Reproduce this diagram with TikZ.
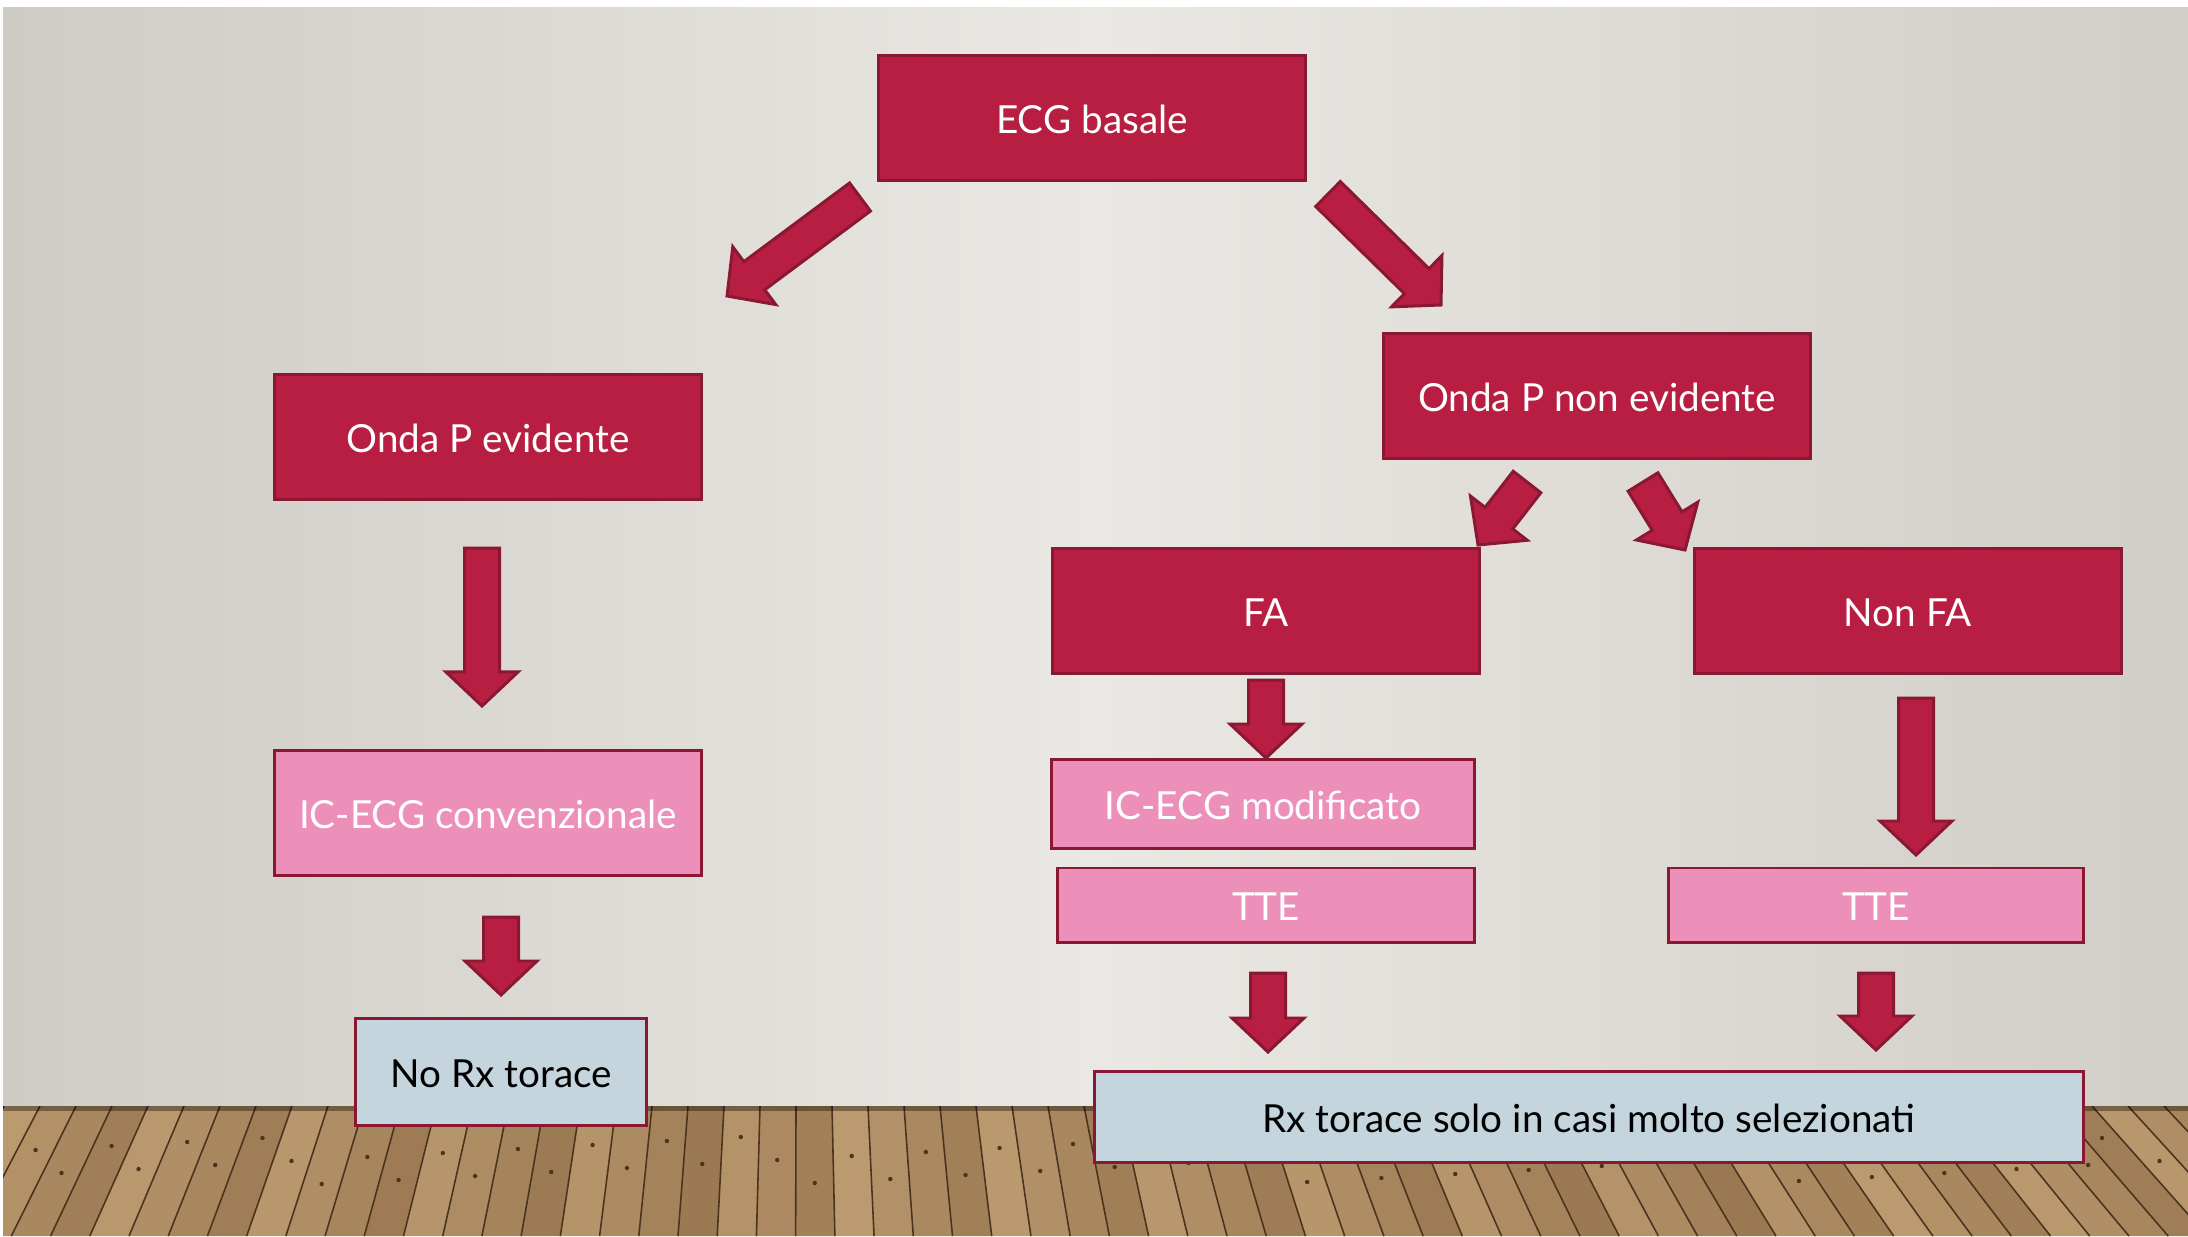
\documentclass[tikz,border=0pt]{standalone}
\usepackage{fontspec}
\setmainfont{Lato}
\usetikzlibrary{calc}
\definecolor{crimson}{HTML}{B71E42}
\definecolor{boxedge}{HTML}{8A1832}
\definecolor{rosepink}{HTML}{EC90BA}
\definecolor{paleblue}{HTML}{C5D5DD}
\definecolor{wallmid}{HTML}{EAE8E4}
\definecolor{wallleft}{HTML}{CFCBC5}
\definecolor{wallright}{HTML}{D1CDC7}
\definecolor{woodlight}{HTML}{C4A277}
\definecolor{wooddark}{HTML}{7E5C38}
\definecolor{woodline}{HTML}{4A3420}

\tikzset{
  box/.style={draw=boxedge, line width=0.85pt, inner sep=0pt,
    font=\fontsize{11}{13}\selectfont, text=white,
    text height=0.9em, text depth=0pt},
  redbox/.style={box, fill=crimson, minimum width=4.27cm, minimum height=1.24cm},
  pinkbox/.style={box, fill=rosepink},
  bluebox/.style={box, fill=paleblue, text=black},
  arrowfill/.style={fill=crimson, draw=boxedge, line width=0.85pt, line join=miter}
}

% block arrow from tail centre #1 to tip #2
\newcommand{\blockarrow}[2]{%
  \coordinate (hb) at ($(#2)!0.34cm!(#1)$);
  \filldraw[arrowfill] ($(#1)!0.175cm!90:(#2)$) -- ($(hb)!0.175cm!-90:(#1)$)
    -- ($(hb)!0.36cm!-90:(#1)$) -- (#2) -- ($(hb)!0.36cm!90:(#1)$)
    -- ($(hb)!0.175cm!90:(#1)$) -- ($(#1)!0.175cm!-90:(#2)$) -- cycle;
}

\begin{document}
\begin{tikzpicture}[x=0.01cm, y=-0.01cm]

    \useasboundingbox (0,0) rectangle (2188,1236);

    % Wall and floor
    \fill[white] (0,0) rectangle (2188,1236);
    \shade[left color=wallleft, right color=wallright, middle color=wallmid] (3,7) rectangle (2188,1106);
    \begin{scope}
        \clip (3,1106) rectangle (2188,1236);
        \fill[wooddark] (3,1106) rectangle (2188,1236);
        \foreach \k in {0,...,70} {
            \pgfmathsetmacro{\xa}{-140+\k*36}
            \pgfmathsetmacro{\xb}{\xa+36}
            \pgfmathsetmacro{\xc}{800+(\xa-800)*1.0893}
            \pgfmathsetmacro{\xd}{800+(\xb-800)*1.0893}
            \pgfmathtruncatemacro{\mix}{mod(\k*37,50)+40}
            \pgfmathsetmacro{\ny}{1135+mod(\k*23,50)}
            \pgfmathsetmacro{\rt}{(\ny+350)/1456}
            \pgfmathsetmacro{\nx}{800+(\xa+18-800)*\rt}
            \fill[woodlight!\mix!wooddark] (\xa,1106) -- (\xb,1106) -- (\xd,1236) -- (\xc,1236) -- cycle;
            \draw[woodline, line width=0.45pt] (\xa,1106) -- (\xc,1236);
            \fill[woodline] (\nx,\ny) circle (2.2);
        }
        \fill[black, opacity=0.35] (3,1106) rectangle (2188,1111);
    \end{scope}

    % Boxes
    \node[redbox] (ecg) at (1092,118) {ECG basale};
    \node[redbox] (pev) at (488,437) {Onda P evidente};
    \node[redbox] (pnon) at (1597,396) {Onda P non evidente};
    \node[redbox] (fa) at (1266,611) {FA};
    \node[redbox] (nonfa) at (1908,611) {Non FA};
    \node[pinkbox, minimum width=4.27cm, minimum height=1.24cm] (conv) at (488,813) {IC-ECG convenzionale};
    \node[pinkbox, minimum width=4.22cm, minimum height=0.88cm] (mod) at (1263,804) {IC-ECG modificato};
    \node[pinkbox, minimum width=4.16cm, minimum height=0.74cm] (tteA) at (1266,905) {TTE};
    \node[pinkbox, minimum width=4.15cm, minimum height=0.74cm] (tteB) at (1876,905) {TTE};
    \node[bluebox, minimum width=2.91cm, minimum height=1.06cm] (norx) at (501,1072) {No Rx torace};
    \node[bluebox, minimum width=9.88cm, minimum height=0.9cm] (rx) at (1589,1117) {Rx torace solo in casi molto selezionati};

    % Arrow ends
    \coordinate (ecgL) at (860,197);   \coordinate (pevT) at (727,296);
    \coordinate (ecgR) at (1328,194);  \coordinate (pnonT) at (1441,305);
    \coordinate (pevB) at (482,548);   \coordinate (convT) at (482,706);
    \coordinate (convB) at (501,917);  \coordinate (norxT) at (501,995);
    \coordinate (faB) at (1266,680);   \coordinate (modT) at (1266,758);
    \coordinate (pnonL) at (1527,482); \coordinate (faT) at (1478,545);
    \coordinate (pnonR) at (1643,482); \coordinate (nonfaT) at (1685,550);
    \coordinate (nonfaB) at (1916,698); \coordinate (tteBT) at (1916,855);
    \coordinate (tteAB) at (1268,973); \coordinate (rxL) at (1268,1052);
    \coordinate (tteBB) at (1876,973); \coordinate (rxR) at (1876,1050);

    % Block arrows
    \blockarrow{ecgL}{pevT}
    \blockarrow{ecgR}{pnonT}
    \blockarrow{pevB}{convT}
    \blockarrow{convB}{norxT}
    \blockarrow{faB}{modT}
    \blockarrow{pnonL}{faT}
    \blockarrow{pnonR}{nonfaT}
    \blockarrow{nonfaB}{tteBT}
    \blockarrow{tteAB}{rxL}
    \blockarrow{tteBB}{rxR}

\end{tikzpicture}
\end{document}
